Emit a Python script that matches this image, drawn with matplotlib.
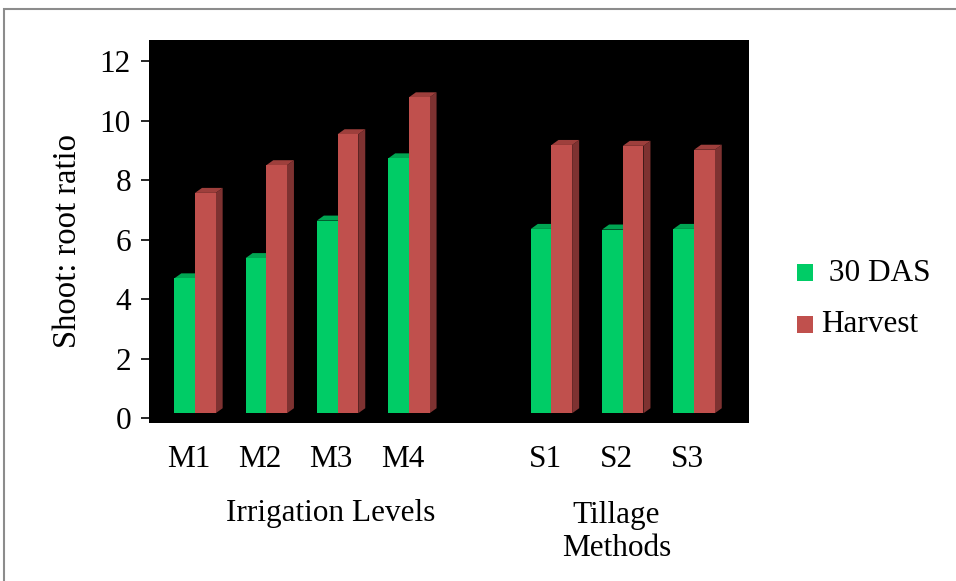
import matplotlib
matplotlib.use("Agg")
import matplotlib.pyplot as plt
from matplotlib.patches import Polygon, Rectangle
from matplotlib.transforms import blended_transform_factory

plt.rcParams['font.family'] = ['Liberation Serif', 'DejaVu Serif']

categories = ["M1", "M2", "M3", "M4", "", "S1", "S2", "S3"]
positions = [0, 1, 2, 3, 5, 6, 7]
labels = ["M1", "M2", "M3", "M4", "S1", "S2", "S3"]
das30 = [4.70, 5.38, 6.64, 8.73, 6.36, 6.34, 6.36]
harvest = [7.57, 8.50, 9.54, 10.78, 9.18, 9.15, 9.02]
series_names = [" 30 DAS", "Harvest"]
groups = ["Irrigation Levels", "Tillage\nMethods"]
group_centers = [2, 6]
yticks = [0, 2, 4, 6, 8, 10, 12]

W, H = 956, 581
FS = 22.5
fig = plt.figure(figsize=(W / 100, H / 100), dpi=100)

# outer border
fig.patches.append(Rectangle((4 / W, -0.02), 1.0, 1 - 9 / H + 0.02, transform=fig.transFigure,
                             fill=False, edgecolor="#8c8c8c", linewidth=1.5))

ax = fig.add_axes([149 / W, 1 - 423 / H, 600 / W, 383 / H])
ax.set_facecolor("black")
ax.set_xlim(-0.645, 7.77)
ax.set_ylim(-0.158, 12.705)

base = 0.17
bw = 0.29
dx = 0.098
dy = 0.168

colors = {
    0: ("#00CC66", "#00A552", "#00803F"),
    1: ("#C0504D", "#9E3F3C", "#7E3231"),
}

def draw_bar(x0, v, cols):
    front, top, side = cols
    x1 = x0 + bw
    ax.add_patch(Polygon([(x1, base), (x1, v), (x1 + dx, v + dy), (x1 + dx, base + dy)],
                         closed=True, facecolor=side, edgecolor="none"))
    ax.add_patch(Polygon([(x0, v), (x1, v), (x1 + dx, v + dy), (x0 + dx, v + dy)],
                         closed=True, facecolor=top, edgecolor="none"))
    ax.add_patch(Rectangle((x0, base), bw, v - base, facecolor=front, edgecolor="none"))

for p, g, r in zip(positions, das30, harvest):
    draw_bar(p - bw, g, colors[0])
    draw_bar(p, r, colors[1])

ax.set_yticks(yticks)
ax.set_yticklabels([str(t) for t in yticks], fontsize=FS)
ax.tick_params(axis="y", length=6, width=1.2, color="black", pad=7)
ax.set_xticks([p - 0.09 for p in positions])
ax.set_xticklabels(labels, fontsize=FS)
ax.tick_params(axis="x", length=0, pad=16)
for s in ax.spines.values():
    s.set_visible(False)

ax.set_ylabel("Shoot: root ratio", fontsize=23.5)
ax.yaxis.set_label_coords(-68 / 600 - 81 / 600 + 68 / 600 - 0.0, 0.475)
ax.yaxis.label.set_position((0, 0.475))
ax.yaxis.set_label_coords((68 - 149) / 600, 0.475)
ax.yaxis.label.set_va("center")

tr = blended_transform_factory(ax.transData, fig.transFigure)
ax.text(group_centers[0] - 0.09, 1 - 514 / H, groups[0], transform=tr, ha="center", va="center",
        fontsize=FS)
ax.text(group_centers[1] - 0.09, 1 - 532 / H, groups[1], transform=tr, ha="center", va="center",
        fontsize=FS, linespacing=1.15)

# legend
leg_items = [(273, colors[0][0], series_names[0]), (325, colors[1][0], series_names[1])]
for yc, col, name in leg_items:
    fig.patches.append(Rectangle((797 / W, 1 - (yc + 8) / H), 16 / W, 17 / H,
                                 transform=fig.transFigure, facecolor=col, edgecolor="none"))
    fig.text(821 / W, 1 - yc / H, name, ha="left", va="center", fontsize=FS)

fig.savefig("out.png", dpi=100)
